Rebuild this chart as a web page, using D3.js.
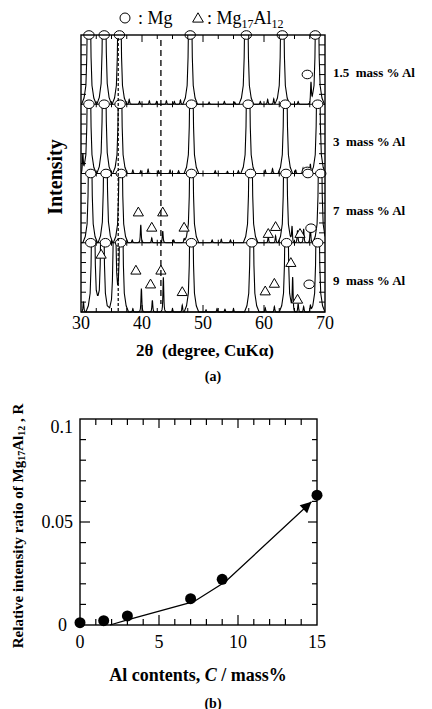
<!DOCTYPE html>
<html>
<head>
<meta charset="utf-8">
<script src="https://cdn.jsdelivr.net/npm/d3@7"></script>
<style>
  body { margin: 0; background: #fff; }
  svg text { font-family: "Liberation Serif", "Times New Roman", serif; fill: #000; }
</style>
</head>
<body>
<div id="chart"></div>
<script>
// ---------- (a) XRD patterns ----------
const samples = ["1.5", "3", "7", "9"];
const sampleLabels = ["1.5  mass % Al", "3  mass % Al", "7  mass % Al", "9  mass % Al"];
const thetaTicks = [30, 40, 50, 60, 70];

// peaks: [2theta, height in band units (>1 runs off the band)]
const peaks15 = [[31.3, 4.5], [33.8, 5], [36.3, 4.5], [37.9, 0.07], [39.6, 0.04], [41.2, 0.05],
  [42.4, 0.04], [44.0, 0.05], [45.3, 0.04], [46.3, 0.06], [47.9, 4.5], [51.0, 0.03], [53.5, 0.04],
  [55.2, 0.03], [57.1, 4.5], [59.4, 0.04], [60.6, 0.07], [61.6, 0.08], [63.0, 4.5], [65.6, 0.04],
  [67.7, 0.28], [68.7, 4.5]];
const peaks3 = [[30.3, 0.25], [31.3, 4.5], [33.8, 5], [36.4, 4.5], [38.5, 0.05], [39.8, 0.04],
  [41.0, 0.06], [42.7, 0.04], [44.6, 0.05], [46.0, 0.04], [48.1, 4.5], [52.0, 0.04], [54.0, 0.03],
  [55.8, 0.04], [57.4, 4.5], [60.2, 0.05], [61.4, 0.07], [63.5, 4.5], [65.2, 0.05], [66.4, 0.08],
  [67.6, 0.14], [68.9, 4.5]];
const peaks7 = [[31.5, 4.5], [34.0, 5], [36.5, 4.5], [38.4, 0.04], [39.8, 0.26], [41.6, 0.07],
  [43.4, 0.17], [45.2, 0.04], [46.9, 0.06], [48.1, 4.5], [51.5, 0.04], [53.0, 0.05], [54.5, 0.04],
  [57.8, 4.5], [60.7, 0.09], [61.9, 0.1], [63.5, 4.5], [64.6, 0.22], [65.5, 0.18], [66.5, 0.2],
  [67.6, 0.24], [69.2, 4.5]];
const peaks9 = [[30.4, 0.15], [32.0, 4.5], [33.5, 4.5], [35.5, 3], [36.6, 4.5], [38.5, 0.05],
  [39.9, 0.34], [41.7, 0.17], [43.5, 0.5], [45.0, 0.05], [46.6, 0.1], [48.1, 4.5], [50.5, 0.03],
  [52.3, 0.05], [53.6, 0.04], [55.0, 0.05], [58.0, 4.5], [60.2, 0.06], [61.7, 0.08], [63.7, 4.5],
  [64.7, 0.46], [65.6, 0.12], [66.5, 0.08], [67.6, 0.1], [68.8, 4.5]];

// markers: [2theta, height in band units]
const mgMarks15 = [[31.3, 1], [33.8, 1], [36.3, 1], [47.9, 1], [57.1, 1], [63.0, 1], [68.4, 1], [67.1, 0.43]];
const mgMarks3 = [[31.3, 1], [33.8, 1], [36.4, 1], [48.1, 1], [57.4, 1], [63.5, 1], [68.8, 1], [67.1, 0.03]];
const mgMarks7 = [[31.6, 1], [34.1, 1], [36.6, 1], [48.1, 1], [57.8, 1], [63.6, 1], [67.2, 1], [69.3, 1], [67.7, 0.21]];
const mgMarks9 = [[31.6, 1], [34.0, 1], [36.5, 1], [48.1, 1], [58.0, 1], [63.7, 1], [68.8, 1], [67.4, 0.4]];
const alMarks15 = [];
const alMarks3 = [];
const alMarks7 = [[39.4, 0.43], [43.4, 0.43], [41.6, 0.21], [46.9, 0.21], [61.9, 0.22], [60.7, 0.12], [65.9, 0.12]];
const alMarks9 = [[33.3, 0.82], [39.0, 0.59], [43.1, 0.59], [41.4, 0.39], [46.6, 0.28], [60.2, 0.29],
  [61.7, 0.4], [64.4, 0.7], [65.5, 0.17]];

const refLines = [36.1, 43.1];

// ---------- (b) intensity ratio ----------
const alContent = [0, 1.5, 3, 7, 9, 15];
const ratioR = [0.0011, 0.0021, 0.0044, 0.0128, 0.0222, 0.063];
const trendC = [1.9, 3, 7.2, 9.2, 14.65];
const trendR = [0, 0.0025, 0.0113, 0.021, 0.0598];
const cTicks = [0, 5, 10, 15];
const rTicks = [0, 0.05, 0.1];

const peakSets = [peaks15, peaks3, peaks7, peaks9];
const mgSets = [mgMarks15, mgMarks3, mgMarks7, mgMarks9];
const alSets = [alMarks15, alMarks3, alMarks7, alMarks9];

const svg = d3.select("#chart").append("svg")
    .attr("width", 432)
    .attr("height", 709);

// peak outline used to turn a peak list into a trace
const shape = [[-1.2, 0], [-0.8, 0.02], [-0.5, 0.06], [-0.35, 0.15], [-0.25, 0.3], [-0.15, 0.6], [-0.07, 0.9],
  [0, 1], [0.07, 0.9], [0.15, 0.6], [0.25, 0.3], [0.35, 0.15], [0.5, 0.06], [0.8, 0.02], [1.2, 0]];
function shapeAt(d) {
  if (d <= shape[0][0] || d >= shape[shape.length - 1][0]) return 0;
  for (let i = 1; i < shape.length; i++) {
    if (d <= shape[i][0]) {
      const [x0, y0] = shape[i - 1], [x1, y1] = shape[i];
      return y0 + (y1 - y0) * (d - x0) / (x1 - x0);
    }
  }
  return 0;
}
function profile(peaks) {
  const wid = h => h < 0.6 ? 0.45 : 1;
  const pts = new Set([30, 70]);
  peaks.forEach(([c, h]) => shape.forEach(([o]) => pts.add(+(c + o * wid(h)).toFixed(3))));
  return Array.from(pts).filter(t => t >= 30 && t <= 70).sort((a, b) => a - b)
    .map(t => [t, d3.sum(peaks, ([c, h]) => h * shapeAt((t - c) / wid(h)))]);
}

// ----- panel (a) -----
const x = d3.scaleLinear().domain([30, 70]).range([81, 325]);
const band = d3.scaleBand().domain(samples).range([35, 312]);
const bw = band.bandwidth();
const yTop = 35, yBottom = 312;

const ga = svg.append("g");

// legend
ga.append("circle").attr("cx", 125).attr("cy", 18).attr("r", 5)
    .attr("fill", "none").attr("stroke", "#000").attr("stroke-width", 1);
ga.append("text").attr("x", 138).attr("y", 24).attr("font-size", 18).text(": Mg");
ga.append("path").attr("transform", "translate(198,19)")
    .attr("d", d3.symbol(d3.symbolTriangle, 50)())
    .attr("fill", "none").attr("stroke", "#000").attr("stroke-width", 1);
const leg = ga.append("text").attr("x", 207).attr("y", 24).attr("font-size", 18);
leg.append("tspan").text(": Mg");
leg.append("tspan").attr("font-size", 12).attr("dy", 4).text("17");
leg.append("tspan").attr("dy", -4).text("Al");
leg.append("tspan").attr("font-size", 12).attr("dy", 4).text("12");

svg.append("defs").selectAll("clipPath").data(samples).join("clipPath")
    .attr("id", (d, i) => "band" + i)
  .append("rect")
    .attr("x", x(30)).attr("y", d => band(d))
    .attr("width", x(70) - x(30)).attr("height", bw + 1);

samples.forEach((s, i) => {
  const b0 = band(s), b1 = band(s) + bw;
  const yb = d3.scaleLinear().domain([0, 1]).range([b1, b0]);
  const line = d3.line().x(d => x(d[0])).y(d => yb(d[1]));

  ga.append("path")
      .attr("clip-path", `url(#band${i})`)
      .attr("d", line(profile(peakSets[i])))
      .attr("fill", "none").attr("stroke", "#000").attr("stroke-width", 1.1);

  // band separator with crossing ticks
  ga.append("line").attr("x1", x(30)).attr("x2", x(70)).attr("y1", b1).attr("y2", b1)
      .attr("stroke", "#000").attr("stroke-width", 1.2);
  if (i < samples.length - 1) {
    ga.selectAll(null).data(d3.range(32.5, 70, 2.5)).join("line")
        .attr("x1", d => x(d)).attr("x2", d => x(d))
        .attr("y1", b1 - 3).attr("y2", b1 + 3)
        .attr("stroke", "#000").attr("stroke-width", 1);
  }

  // side ticks
  const ys = d3.range(1, 7).map(k => b0 + k * bw / 7);
  ga.selectAll(null).data(ys).join("line")
      .attr("x1", x(30)).attr("x2", x(30) + 5).attr("y1", d => d).attr("y2", d => d)
      .attr("stroke", "#000").attr("stroke-width", 1);
  ga.selectAll(null).data(ys).join("line")
      .attr("x1", x(70)).attr("x2", x(70) - 6).attr("y1", d => d).attr("y2", d => d)
      .attr("stroke", "#000").attr("stroke-width", 1);

  ga.selectAll(null).data(alSets[i]).join("path")
      .attr("transform", d => `translate(${x(d[0])},${yb(d[1])})`)
      .attr("d", d3.symbol(d3.symbolTriangle, 45)())
      .attr("fill", "#fff").attr("stroke", "#000").attr("stroke-width", 1);

  ga.selectAll(null).data(mgSets[i]).join("ellipse")
      .attr("cx", d => x(d[0])).attr("cy", d => yb(d[1]))
      .attr("rx", 5.2).attr("ry", 4.3)
      .attr("fill", "#fff").attr("stroke", "#000").attr("stroke-width", 1);

  ga.append("text")
      .attr("x", 333).attr("y", b0 + bw * 0.54)
      .attr("dominant-baseline", "central")
      .attr("font-size", 13).attr("font-weight", "bold")
      .attr("xml:space", "preserve")
      .style("white-space", "pre")
      .text(sampleLabels[i]);
});

// reference lines
ga.append("line").attr("x1", x(refLines[0])).attr("x2", x(refLines[0]))
    .attr("y1", yTop + 3).attr("y2", yBottom)
    .attr("stroke", "#000").attr("stroke-width", 1.2).attr("stroke-dasharray", "3,2");
ga.append("line").attr("x1", x(refLines[1])).attr("x2", x(refLines[1]))
    .attr("y1", yTop + 5).attr("y2", yBottom - 8)
    .attr("stroke", "#000").attr("stroke-width", 1.3).attr("stroke-dasharray", "6,4");

// frame
ga.append("rect").attr("x", x(30)).attr("y", yTop)
    .attr("width", x(70) - x(30)).attr("height", yBottom - yTop)
    .attr("fill", "none").attr("stroke", "#000").attr("stroke-width", 1.4);

const tx = d3.range(32.5, 70, 2.5);
ga.selectAll(null).data(tx).join("line")
    .attr("x1", d => x(d)).attr("x2", d => x(d))
    .attr("y1", yTop).attr("y2", d => yTop + (d % 10 === 0 ? 7 : 4))
    .attr("stroke", "#000").attr("stroke-width", 1);
ga.selectAll(null).data(tx).join("line")
    .attr("x1", d => x(d)).attr("x2", d => x(d))
    .attr("y1", yBottom).attr("y2", d => yBottom - (d % 10 === 0 ? 7 : 4))
    .attr("stroke", "#000").attr("stroke-width", 1);

ga.selectAll(null).data(thetaTicks).join("text")
    .attr("x", d => x(d)).attr("y", 323)
    .attr("text-anchor", "middle").attr("dominant-baseline", "central")
    .attr("font-size", 18).text(d => d);

ga.append("text").attr("x", 205).attr("y", 350)
    .attr("text-anchor", "middle").attr("dominant-baseline", "central")
    .attr("font-size", 17).attr("font-weight", "bold")
    .attr("xml:space", "preserve").style("white-space", "pre")
    .text("2θ  (degree, CuKα)");

ga.append("text").attr("transform", "translate(55,177) rotate(-90)")
    .attr("text-anchor", "middle").attr("dominant-baseline", "central")
    .attr("font-size", 20).attr("font-weight", "bold").text("Intensity");

ga.append("text").attr("x", 213).attr("y", 376)
    .attr("text-anchor", "middle").attr("dominant-baseline", "central")
    .attr("font-size", 14).attr("font-weight", "bold").text("(a)");

// ----- panel (b) -----
const xc = d3.scaleLinear().domain([0, 15]).range([80, 317]);
const yr = d3.scaleLinear().domain([0, 0.1]).range([625, 419]);
const gb = svg.append("g");

gb.append("rect").attr("x", xc(0)).attr("y", yr(0.1))
    .attr("width", xc(15) - xc(0)).attr("height", yr(0) - yr(0.1))
    .attr("fill", "none").attr("stroke", "#000").attr("stroke-width", 1.4);

const cMinor = d3.range(1, 15);
gb.selectAll(null).data(cMinor).join("line")
    .attr("x1", d => xc(d)).attr("x2", d => xc(d))
    .attr("y1", yr(0)).attr("y2", d => yr(0) - (d % 5 === 0 ? 10 : 6))
    .attr("stroke", "#000").attr("stroke-width", 1.2);
gb.selectAll(null).data(cMinor).join("line")
    .attr("x1", d => xc(d)).attr("x2", d => xc(d))
    .attr("y1", yr(0.1)).attr("y2", d => yr(0.1) + (d % 5 === 0 ? 9 : 6))
    .attr("stroke", "#000").attr("stroke-width", 1.2);

const rMinor = d3.range(1, 10).map(k => k / 100);
gb.selectAll(null).data(rMinor).join("line")
    .attr("x1", xc(0)).attr("x2", (d, i) => xc(0) + (i === 4 ? 10 : 6))
    .attr("y1", d => yr(d)).attr("y2", d => yr(d))
    .attr("stroke", "#000").attr("stroke-width", 1.2);
gb.selectAll(null).data(rMinor).join("line")
    .attr("x1", xc(15)).attr("x2", (d, i) => xc(15) - (i === 4 ? 9 : 5))
    .attr("y1", d => yr(d)).attr("y2", d => yr(d))
    .attr("stroke", "#000").attr("stroke-width", 1.2);

gb.selectAll(null).data(cTicks).join("text")
    .attr("x", d => xc(d)).attr("y", 642)
    .attr("text-anchor", "middle").attr("dominant-baseline", "central")
    .attr("font-size", 18).text(d => d);
gb.selectAll(null).data(rTicks).join("text")
    .attr("x", d => d === 0 ? 67 : 73)
    .attr("y", d => Math.min(Math.max(yr(d), yr(0.1) + 8), yr(0) + 7))
    .attr("text-anchor", "end").attr("dominant-baseline", "central")
    .attr("font-size", 18).text(d => d);

svg.append("defs").append("marker")
    .attr("id", "arrow").attr("viewBox", "0 0 10 10")
    .attr("refX", 10).attr("refY", 5)
    .attr("markerWidth", 16).attr("markerHeight", 11)
    .attr("markerUnits", "userSpaceOnUse").attr("orient", "auto")
  .append("path").attr("d", "M0,0L10,5L0,10z").attr("fill", "#000");

const trend = trendC.map((c, i) => [c, trendR[i]]);
gb.append("path")
    .attr("d", d3.line().x(d => xc(d[0])).y(d => yr(d[1]))(trend))
    .attr("fill", "none").attr("stroke", "#000").attr("stroke-width", 1.3)
    .attr("marker-end", "url(#arrow)");

gb.selectAll(null).data(alContent).join("circle")
    .attr("cx", d => xc(d)).attr("cy", (d, i) => yr(ratioR[i]))
    .attr("r", 5.5).attr("fill", "#000");

const yl = gb.append("text").attr("transform", "translate(18,526) rotate(-90)")
    .attr("text-anchor", "middle").attr("dominant-baseline", "central")
    .attr("font-size", 15).attr("font-weight", "bold");
yl.append("tspan").text("Relative intensity ratio of Mg");
yl.append("tspan").attr("font-size", 10).attr("dy", 3).text("17");
yl.append("tspan").attr("dy", -3).text("Al");
yl.append("tspan").attr("font-size", 10).attr("dy", 3).text("12");
yl.append("tspan").attr("dy", -3).text(" , R");

const xl = gb.append("text").attr("x", 198).attr("y", 675)
    .attr("text-anchor", "middle").attr("dominant-baseline", "central")
    .attr("font-size", 18).attr("font-weight", "bold");
xl.append("tspan").text("Al contents, ");
xl.append("tspan").attr("font-style", "italic").text("C");
xl.append("tspan").text(" / mass%");

gb.append("text").attr("x", 213).attr("y", 703)
    .attr("text-anchor", "middle").attr("dominant-baseline", "central")
    .attr("font-size", 14).attr("font-weight", "bold").text("(b)");
</script>
</body>
</html>
